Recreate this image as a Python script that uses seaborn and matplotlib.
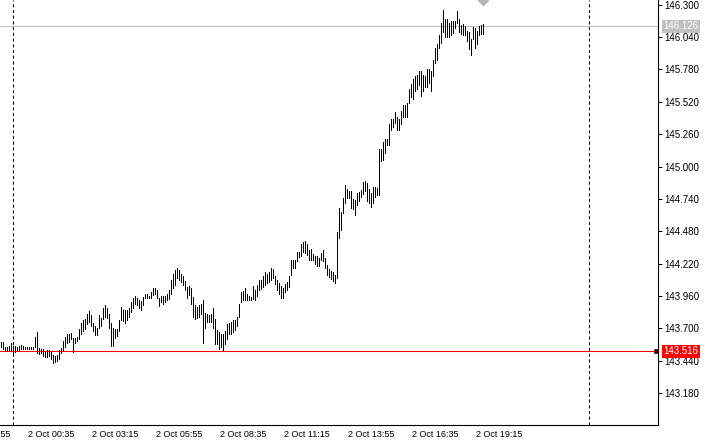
import numpy as np
import pandas as pd
import matplotlib
matplotlib.use("Agg")
import matplotlib.pyplot as plt
import matplotlib.transforms as mtransforms
from matplotlib.lines import Line2D
import seaborn as sns

# USDJPY M5 bar chart (high/low only), first bar 1 Oct 23:30
start_time = "2024-10-01 23:30"

bar_highs = [
    143.592, 143.592, 143.552, 143.552, 143.560, 143.584, 143.560, 143.560, 143.552, 143.560,
    143.568, 143.560, 143.552, 143.552, 143.552, 143.552, 143.552, 143.632, 143.672, 143.544,
    143.536, 143.536, 143.519, 143.527, 143.527, 143.511, 143.487, 143.479, 143.487, 143.527,
    143.544, 143.600, 143.632, 143.656, 143.656, 143.664, 143.624, 143.624, 143.632, 143.696,
    143.744, 143.768, 143.776, 143.817, 143.841, 143.809, 143.744, 143.720, 143.704, 143.809,
    143.784, 143.865, 143.889, 143.865, 143.817, 143.744, 143.704, 143.696, 143.696, 143.768,
    143.873, 143.849, 143.849, 143.849, 143.865, 143.913, 143.945, 143.961, 143.945, 143.929,
    143.921, 143.953, 143.977, 143.977, 143.961, 143.993, 144.026, 144.026, 144.009, 143.945,
    143.961, 143.961, 143.961, 143.977, 144.009, 144.090, 144.138, 144.170, 144.186, 144.170,
    144.138, 144.122, 144.082, 144.034, 144.042, 144.026, 143.953, 143.889, 143.873, 143.889,
    143.897, 143.929, 143.825, 143.817, 143.809, 143.817, 143.865, 143.776, 143.688, 143.672,
    143.656, 143.656, 143.680, 143.736, 143.744, 143.752, 143.768, 143.768, 143.792, 143.897,
    143.993, 144.001, 144.026, 143.977, 143.961, 143.953, 144.042, 144.009, 144.050, 144.090,
    144.090, 144.122, 144.154, 144.138, 144.154, 144.186, 144.178, 144.122, 144.090, 144.066,
    144.042, 144.026, 144.058, 144.074, 144.122, 144.250, 144.250, 144.250, 144.314, 144.314,
    144.379, 144.395, 144.403, 144.379, 144.330, 144.338, 144.298, 144.282, 144.282, 144.266,
    144.306, 144.330, 144.266, 144.210, 144.178,
    144.162, 144.154, 144.130, 144.475, 144.668, 144.636, 144.748, 144.853, 144.821, 144.804,
    144.804, 144.740, 144.732, 144.788, 144.796, 144.812, 144.877, 144.885, 144.869, 144.821,
    144.788, 144.837, 144.837, 144.829, 145.141, 145.141, 145.198, 145.222, 145.222, 145.342,
    145.382, 145.382, 145.439, 145.398, 145.382,
    145.447, 145.495, 145.495, 145.511, 145.623, 145.664, 145.704, 145.728, 145.736, 145.768,
    145.768, 145.736, 145.728, 145.784, 145.784, 145.768, 145.856, 145.952, 145.985, 146.057,
    146.153, 146.258, 146.185, 146.185, 146.153, 146.169, 146.169, 146.169, 146.250, 146.185,
    146.137, 146.145, 146.129, 146.089, 146.081, 146.025, 146.121, 146.113, 146.089, 146.129,
    146.137, 146.145,
]

bar_lows = [
    143.552, 143.536, 143.519, 143.519, 143.527, 143.519, 143.503, 143.511, 143.519, 143.527,
    143.536, 143.536, 143.536, 143.536, 143.536, 143.536, 143.536, 143.552, 143.503, 143.495,
    143.503, 143.479, 143.471, 143.471, 143.479, 143.455, 143.423, 143.431, 143.439, 143.455,
    143.503, 143.519, 143.552, 143.584, 143.592, 143.616, 143.511, 143.584, 143.600, 143.616,
    143.656, 143.680, 143.696, 143.736, 143.752, 143.720, 143.680, 143.648, 143.648, 143.704,
    143.720, 143.776, 143.792, 143.784, 143.704, 143.560, 143.560, 143.624, 143.640, 143.680,
    143.768, 143.760, 143.744, 143.768, 143.792, 143.833, 143.865, 143.897, 143.889, 143.865,
    143.849, 143.889, 143.945, 143.945, 143.945, 143.945, 143.969, 143.977, 143.945, 143.881,
    143.913, 143.897, 143.913, 143.929, 143.937, 143.977, 144.026, 144.050, 144.106, 144.090,
    144.074, 144.050, 144.009, 143.945, 143.969, 143.897, 143.792, 143.776, 143.784, 143.792,
    143.817, 143.584, 143.704, 143.752, 143.752, 143.752, 143.704, 143.576, 143.576, 143.536,
    143.552, 143.527, 143.576, 143.616, 143.656, 143.656, 143.672, 143.688, 143.720, 143.792,
    143.913, 143.929, 143.929, 143.929, 143.929, 143.929, 143.937, 143.929, 143.961, 144.009,
    144.017, 144.034, 144.050, 144.066, 144.074, 144.090, 144.106, 144.058, 144.009, 143.977,
    143.945, 143.945, 143.993, 144.009, 144.034, 144.130, 144.186, 144.186, 144.242, 144.274,
    144.282, 144.314, 144.306, 144.290, 144.250, 144.250, 144.250, 144.218, 144.202, 144.202,
    144.250, 144.242, 144.186, 144.130, 144.114,
    144.098, 144.082, 144.066, 144.106, 144.427, 144.491, 144.628, 144.708, 144.748, 144.748,
    144.668, 144.660, 144.612, 144.692, 144.724, 144.756, 144.780, 144.804, 144.724, 144.708,
    144.676, 144.708, 144.756, 144.772, 144.772, 145.045, 145.053, 145.109, 145.174, 145.174,
    145.294, 145.318, 145.350, 145.294, 145.294,
    145.342, 145.398, 145.398, 145.398, 145.511, 145.559, 145.543, 145.607, 145.623, 145.656,
    145.567, 145.607, 145.640, 145.640, 145.672, 145.607, 145.728, 145.832, 145.856, 145.952,
    145.993, 146.081, 146.041, 146.041, 146.041, 146.057, 146.073, 146.113, 146.153, 146.081,
    146.065, 146.057, 146.057, 146.009, 145.944, 145.896, 146.025, 145.952, 145.985, 146.057,
    146.065, 146.065,
]

time_ticks = ["2024-10-01 21:55", "2024-10-02 00:35", "2024-10-02 03:15", "2024-10-02 05:55",
              "2024-10-02 08:35", "2024-10-02 11:15", "2024-10-02 13:55", "2024-10-02 16:35",
              "2024-10-02 19:15"]
day_breaks = ["2024-10-02 00:00", "2024-10-03 00:00"]
price_ticks = [143.18, 143.44, 143.70, 143.96, 144.22, 144.48, 144.74,
               145.00, 145.26, 145.52, 145.78, 146.04, 146.30]
bid_price = 146.126
level_price = 143.516

# bar number since the first bar (5 minute bars)
t0 = pd.Timestamp(start_time)
step = pd.Timedelta(minutes=5)
bar_no = np.arange(len(bar_highs))


def to_bar(t):
    return (pd.Timestamp(t) - t0) / step


df = pd.DataFrame({
    "bar": np.repeat(bar_no, 2),
    "price": np.column_stack([bar_lows, bar_highs]).ravel(),
})

sns.set_style("white")
plt.rcParams["font.family"] = ["Liberation Sans", "DejaVu Sans"]

W, H = 714, 448
fig = plt.figure(figsize=(W / 100, H / 100), dpi=100)
ax = fig.add_axes([0, 1 - 425 / H, 658 / W, 425 / H])

sns.lineplot(data=df, x="bar", y="price", units="bar", estimator=None, sort=False,
             color="black", lw=0.72, legend=False, antialiased=False, ax=ax)

ax.set_xlabel("")
ax.set_ylabel("")

# day separators
for d in day_breaks:
    ax.axvline(to_bar(d), color="black", lw=0.75, linestyle=(0, (3, 2.5)), zorder=1)

# bid line and horizontal level
ax.axhline(bid_price, color="#c0c0c0", lw=0.75, zorder=0)
ax.axhline(level_price, color="#ff0000", lw=0.75, zorder=1)

right = mtransforms.blended_transform_factory(ax.transAxes, ax.transData)
ax.plot([1 - 2.5 / 658], [level_price], marker="s", ms=3.2, color="black", mec="#800000",
        mew=0.5, transform=right, clip_on=False, zorder=5)

# marker at the top of the last bar
ax.plot([bar_no[-1]], [146.338], marker="D", ms=5, color="#b4b4b4", clip_on=True, zorder=4)

# axes styling
for side in ["top", "left"]:
    ax.spines[side].set_visible(False)
for side in ["right", "bottom"]:
    ax.spines[side].set_color("black")
    ax.spines[side].set_linewidth(0.8)

ax.yaxis.tick_right()
ax.set_yticks(price_ticks, [f"{p:.3f}" for p in price_ticks])
ax.tick_params(axis="y", direction="out", length=3, width=0.75, pad=1.5,
               labelsize=7, colors="black")

tick_pos = [to_bar(t) for t in time_ticks]
ax.set_xticks(tick_pos, [""] * len(tick_pos))
ax.tick_params(axis="x", direction="out", length=3, width=0.75, colors="black")
below = mtransforms.blended_transform_factory(ax.transData, ax.transAxes)
shift = mtransforms.ScaledTranslation(2 / 100, -5 / 100, fig.dpi_scale_trans)
for t, x in zip(time_ticks, tick_pos):
    ts = pd.Timestamp(t)
    ax.text(x, 0, f"{ts.day} {ts:%b %H:%M}", transform=below + shift, ha="left", va="top",
            fontsize=6.5, color="black", clip_on=False)

# limits last, set_xticks would widen them otherwise
ax.set_xlim(-0.25, 328.75)
ax.set_ylim(142.925, 146.338)

# price tags on the scale
tag_shift = mtransforms.ScaledTranslation(5.5 / 100, 0, fig.dpi_scale_trans)
ax.text(1, bid_price, f"{bid_price:.3f}", transform=right + tag_shift, ha="left", va="center",
        fontsize=7, color="white", clip_on=False, zorder=6,
        bbox=dict(boxstyle="square,pad=0.18", fc="#c0c0c0", ec="none"))
ax.text(1, level_price, f"{level_price:.3f}", transform=right + tag_shift, ha="left",
        va="center", fontsize=7, color="white", clip_on=False, zorder=6,
        bbox=dict(boxstyle="square,pad=0.18", fc="#ff0000", ec="none"))

# light window border
fig.add_artist(Line2D([1 - 0.5 / W] * 2, [0, 1], transform=fig.transFigure, color="#dcdcdc", lw=0.75))
fig.add_artist(Line2D([0, 1], [0.5 / H] * 2, transform=fig.transFigure, color="#dcdcdc", lw=0.75))

fig.savefig("out.png", dpi=100)
